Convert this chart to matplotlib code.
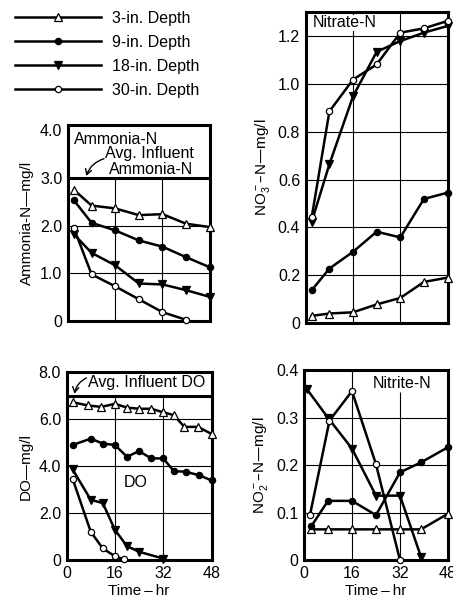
import matplotlib
matplotlib.use("Agg")
import matplotlib.pyplot as plt
from matplotlib.lines import Line2D

plt.rcParams.update({
    "font.family": ["Liberation Sans", "DejaVu Sans"],
    "font.size": 11,
    "mathtext.default": "regular",
})

# ---------------------------------------------------------------------
# DATA
# ---------------------------------------------------------------------
DEPTHS = ["3-in. Depth", "9-in. Depth", "18-in. Depth", "30-in. Depth"]

T_N = [2, 8, 16, 24, 32, 40, 48]

NH3_3 = [2.75, 2.42, 2.36, 2.22, 2.24, 2.04, 1.97]
NH3_9 = [2.53, 2.06, 1.90, 1.69, 1.56, 1.34, 1.13]
NH3_18 = [1.82, 1.43, 1.17, 0.79, 0.77, 0.65, 0.51]
NH3_30 = [1.95, 0.98, 0.73, 0.46, 0.19, 0.03]

NO3_3 = [0.03, 0.04, 0.045, 0.078, 0.105, 0.172, 0.19]
NO3_9 = [0.137, 0.228, 0.298, 0.382, 0.358, 0.519, 0.545]
NO3_18 = [0.424, 0.664, 0.948, 1.134, 1.179, 1.214, 1.242]
NO3_30 = [0.442, 0.885, 1.018, 1.081, 1.214, 1.232, 1.263]

T_DO_3 = [2, 7, 11.5, 16, 20, 24, 28, 32, 35.5, 39, 43.5, 48]
DO_3 = [6.72, 6.58, 6.52, 6.65, 6.49, 6.44, 6.44, 6.29, 6.17, 5.67, 5.67, 5.37]
T_DO_9 = [2, 8, 12, 16, 20, 24, 28, 32, 35.5, 39.5, 44, 48]
DO_9 = [4.90, 5.17, 4.96, 4.90, 4.40, 4.64, 4.33, 4.33, 3.79, 3.76, 3.61, 3.39]
T_DO_18 = [2, 8, 12, 16, 20, 24, 32]
DO_18 = [3.86, 2.57, 2.43, 1.29, 0.60, 0.36, 0.07]
T_DO_30 = [2, 8, 12, 16, 19]
DO_30 = [3.46, 1.21, 0.50, 0.17, 0.04]

T_NO2_3 = [2.5, 8, 16, 24, 32, 39, 48]
NO2_3 = [0.065, 0.065, 0.065, 0.065, 0.065, 0.065, 0.098]
T_NO2_9 = [2.5, 8, 16, 24, 32, 39, 48]
NO2_9 = [0.072, 0.125, 0.125, 0.095, 0.185, 0.206, 0.238]
T_NO2_18 = [1, 8, 16, 24, 32, 39]
NO2_18 = [0.36, 0.30, 0.235, 0.136, 0.136, 0.007]
T_NO2_30 = [2, 8.5, 16, 24, 32]
NO2_30 = [0.095, 0.294, 0.356, 0.202, 0.0]

X_TICKS = [0, 16, 32, 48]

# ---------------------------------------------------------------------
# STYLE
# ---------------------------------------------------------------------
MARKERS = [
    dict(marker="^", mfc="white", ms=5.5),
    dict(marker="o", mfc="black", ms=4.5),
    dict(marker="v", mfc="black", ms=5.5),
    dict(marker="o", mfc="white", ms=4.5),
]
LINE_KW = dict(color="black", lw=1.8, mec="black", mew=0.9, clip_on=False, zorder=5)
SPINE_W = 2.2
GRID_KW = dict(color="black", lw=0.8, zorder=1)
TXT = 11.5
ARROW = dict(arrowstyle="->,head_length=0.35,head_width=0.2", color="black",
             lw=1.0, shrinkA=0, shrinkB=0, connectionstyle="arc3,rad=0.25")


def style_axes(ax, yticks, ylabels, ylim, show_x):
    ax.set_xlim(0, 48)
    ax.set_ylim(*ylim)
    ax.set_yticks(yticks)
    ax.set_yticklabels(ylabels)
    ax.set_xticks(X_TICKS)
    if show_x:
        ax.set_xticklabels([str(t) for t in X_TICKS], fontsize=12)
        ax.set_xlabel("Time\u2009\u2013\u2009hr", fontsize=11, labelpad=2)
    else:
        ax.set_xticklabels([])
    ax.tick_params(length=0, pad=4, labelsize=11.5)
    for s in ax.spines.values():
        s.set_linewidth(SPINE_W)


def plot_series(ax, series):
    for (t, y), mk in zip(series, MARKERS):
        ax.plot(t, y, **mk, **LINE_KW)


fig = plt.figure(figsize=(4.53, 6.05), dpi=100)

# ---------------- AMMONIA ----------------
ax1 = fig.add_axes([0.150, 0.469, 0.313, 0.324])
plot_series(ax1, [(T_N, NH3_3), (T_N, NH3_9), (T_N, NH3_18), (T_N[:6], NH3_30)])
for y in [1.0, 2.0]:
    ax1.axhline(y, **GRID_KW)
ax1.axhline(3.0, color="black", lw=SPINE_W, zorder=1)
ax1.vlines([16, 32], 0, 3.0, **GRID_KW)
style_axes(ax1, [0, 1, 2, 3, 4], ["0", "1.0", "2.0", "3.0", "4.0"], (0, 4.1), False)
ax1.set_ylabel("Ammonia-N\u2014mg/l", fontsize=11, labelpad=4)
ax1.text(2.2, 3.81, "Ammonia-N", va="center", fontsize=TXT)
ax1.text(12.6, 3.51, "Avg. Influent", va="center", fontsize=TXT)
ax1.text(14.0, 3.17, "Ammonia-N", va="center", fontsize=TXT)
ax1.annotate("", xy=(6.2, 3.04), xytext=(12.2, 3.4), arrowprops=ARROW)

# ---------------- NITRATE ----------------
ax2 = fig.add_axes([0.675, 0.466, 0.313, 0.514])
plot_series(ax2, [(T_N, NO3_3), (T_N, NO3_9), (T_N, NO3_18), (T_N, NO3_30)])
for y in [0.2, 0.4, 0.6, 0.8, 1.0, 1.2]:
    ax2.axhline(y, **GRID_KW)
ax2.vlines([16, 32], 0, 1.3, **GRID_KW)
style_axes(ax2, [0, 0.2, 0.4, 0.6, 0.8, 1.0, 1.2],
           ["0", "0.2", "0.4", "0.6", "0.8", "1.0", "1.2"], (0, 1.3), False)
ax2.set_ylabel("NO$_3^-$\u2013N\u2014mg/l", fontsize=11, labelpad=4)
ax2.text(2.2, 1.255, "Nitrate-N", va="center", fontsize=TXT,
         bbox=dict(facecolor="white", edgecolor="none", pad=0.5), zorder=3)

# ---------------- DO ----------------
ax3 = fig.add_axes([0.147, 0.074, 0.320, 0.311])
plot_series(ax3, [(T_DO_3, DO_3), (T_DO_9, DO_9), (T_DO_18, DO_18), (T_DO_30, DO_30)])
for y in [2.0, 4.0, 6.0]:
    ax3.axhline(y, **GRID_KW)
ax3.axhline(7.0, color="black", lw=SPINE_W, zorder=1)
ax3.vlines([16, 32], 0, 7.0, **GRID_KW)
style_axes(ax3, [0, 2, 4, 6, 8], ["0", "2.0", "4.0", "6.0", "8.0"], (0, 8), True)
ax3.set_ylabel("DO\u2014mg/l", fontsize=11, labelpad=4)
ax3.text(7.0, 7.55, "Avg. Influent DO", va="center", fontsize=TXT)
ax3.text(22.8, 3.3, "DO", va="center", ha="center", fontsize=TXT)
ax3.annotate("", xy=(2.6, 7.08), xytext=(6.6, 7.75), arrowprops=ARROW)

# ---------------- NITRITE ----------------
ax4 = fig.add_axes([0.671, 0.074, 0.318, 0.314])
plot_series(ax4, [(T_NO2_3, NO2_3), (T_NO2_9, NO2_9), (T_NO2_18, NO2_18), (T_NO2_30, NO2_30)])
for y in [0.1, 0.2, 0.3]:
    ax4.axhline(y, **GRID_KW)
ax4.vlines([16], 0, 0.4, **GRID_KW)
ax4.vlines([32], 0, 0.355, **GRID_KW)
style_axes(ax4, [0, 0.1, 0.2, 0.3, 0.4], ["0", "0.1", "0.2", "0.3", "0.4"], (0, 0.4), True)
ax4.set_ylabel("NO$_2^-$\u2013N\u2014mg/l", fontsize=11, labelpad=4)
ax4.text(23.0, 0.373, "Nitrite-N", va="center", fontsize=TXT)

# ---------------- LEGEND ----------------
handles = [Line2D([0], [0], color="black", lw=1.8, mec="black", mew=0.9, **mk)
           for mk in MARKERS]
fig.legend(handles, DEPTHS, loc="upper left", bbox_to_anchor=(0.012, 0.998),
           frameon=False, handlelength=5.4, numpoints=1, labelspacing=0.56,
           handletextpad=0.7, fontsize=11.5, borderaxespad=0.2)

fig.savefig("out.png", dpi=100)
